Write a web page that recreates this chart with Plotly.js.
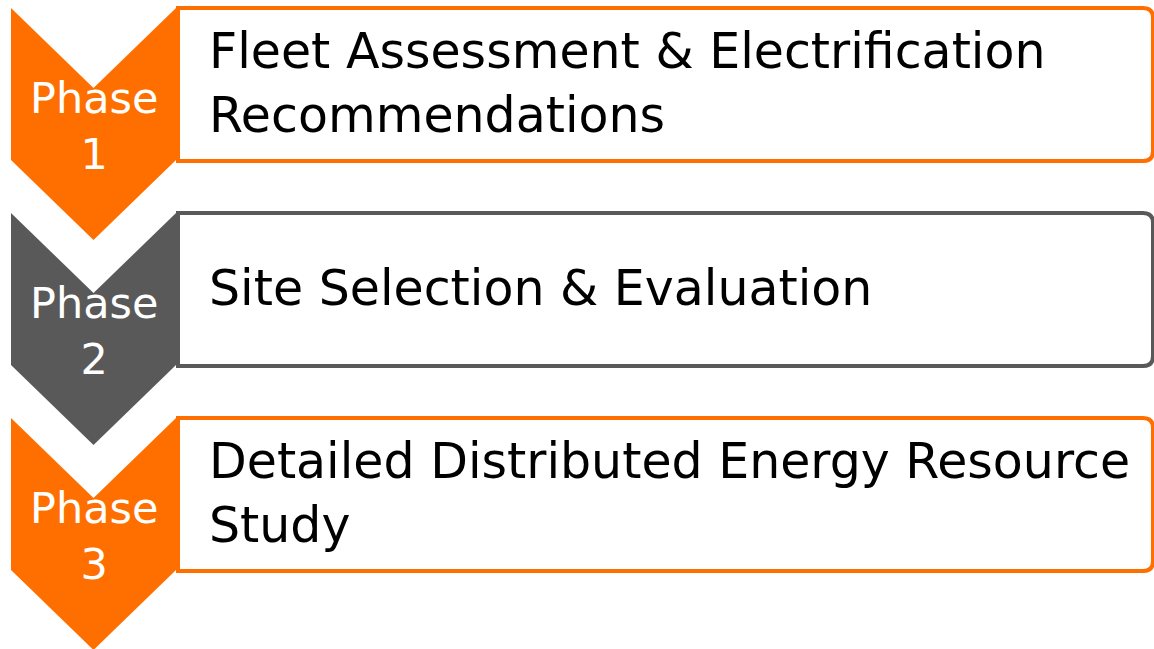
<!DOCTYPE html>
<html><head><meta charset="utf-8">
<script src="https://cdn.plot.ly/plotly-3.0.1.min.js"></script>
<style>html,body{margin:0;padding:0;background:#fff}#c{width:1154px;height:649px}</style>
</head><body><div id="c"></div>
<script>
const phases = ["Phase<br>1", "Phase<br>2", "Phase<br>3"];
const descriptions = ["Fleet Assessment & Electrification<br>Recommendations", "Site Selection & Evaluation", "Detailed Distributed Energy Resource<br>Study"];
const colors = ["#FF6F00", "#595959", "#FF6F00"];

const top0 = 8, step = 205, chevL = 11, chevR = 176, notch = 80, chevH = 152, boxL = 178, boxR = 1153, boxH = 153, r = 10;
const traces = [], shapes = [], annotations = [];
phases.forEach((p, i) => {
  const t = top0 + i * step;
  const cx = (chevL + chevR) / 2;
  traces.push({
    type: 'scatter', mode: 'lines', fill: 'toself', fillcolor: colors[i],
    line: {width: 0, color: colors[i]}, hoverinfo: 'skip', showlegend: false,
    x: [chevL, cx, chevR, chevR, cx, chevL, chevL],
    y: [t, t + notch, t, t + chevH, t + chevH + notch, t + chevH, t]
  });
  const bt = t, bb = t + boxH;
  shapes.push({
    type: 'path', xref: 'x', yref: 'y', layer: 'below',
    path: `M ${boxL} ${bt} L ${boxR - r} ${bt} Q ${boxR} ${bt} ${boxR} ${bt + r} L ${boxR} ${bb - r} Q ${boxR} ${bb} ${boxR - r} ${bb} L ${boxL} ${bb} Z`,
    line: {color: colors[i], width: 4}, fillcolor: '#ffffff'
  });
  annotations.push({
    x: cx, y: t + chevH / 2 + 42, xref: 'x', yref: 'y', text: p, showarrow: false,
    font: {family: 'DejaVu Sans, sans-serif', size: 43, color: '#ffffff'},
    xanchor: 'center', yanchor: 'middle', align: 'center'
  });
  annotations.push({
    x: 207, y: t + boxH / 2 - 1, xref: 'x', yref: 'y', text: descriptions[i], showarrow: false,
    font: {family: 'DejaVu Sans, sans-serif', size: 49, color: '#000000'},
    xanchor: 'left', yanchor: 'middle', align: 'left'
  });
});
Plotly.newPlot('c', traces, {
  width: 1154, height: 649, margin: {l: 0, r: 0, t: 0, b: 0},
  paper_bgcolor: '#fff', plot_bgcolor: '#fff',
  xaxis: {range: [0, 1154], visible: false, fixedrange: true},
  yaxis: {range: [649, 0], visible: false, fixedrange: true},
  shapes: shapes, annotations: annotations, showlegend: false
}, {displayModeBar: false, staticPlot: true});
</script></body></html>
